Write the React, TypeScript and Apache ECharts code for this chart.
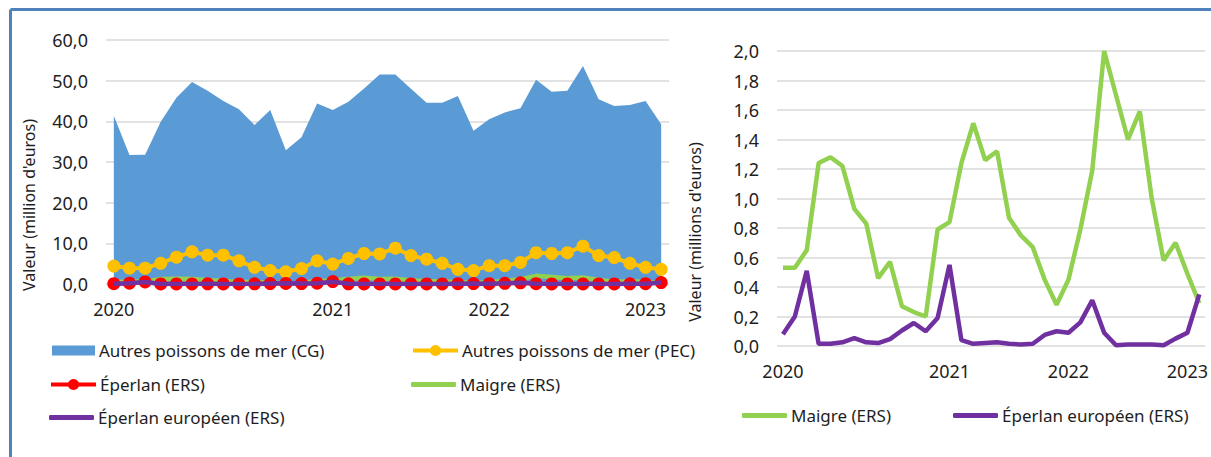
import React, { useEffect, useRef } from "react";
import * as echarts from "echarts";

const categories = [
  "2020-01", "2020-02", "2020-03", "2020-04", "2020-05", "2020-06",
  "2020-07", "2020-08", "2020-09", "2020-10", "2020-11", "2020-12",
  "2021-01", "2021-02", "2021-03", "2021-04", "2021-05", "2021-06",
  "2021-07", "2021-08", "2021-09", "2021-10", "2021-11", "2021-12",
  "2022-01", "2022-02", "2022-03", "2022-04", "2022-05", "2022-06",
  "2022-07", "2022-08", "2022-09", "2022-10", "2022-11", "2022-12",
];
const yearTickIndex = [0, 14, 24, 34];
const yearTickText = ["2020", "2021", "2022", "2023"];

const autresCG = [
  41.4, 31.7, 31.8, 39.9, 45.8, 49.7, 47.5, 45.0, 43.0, 39.1,
  42.8, 32.9, 36.1, 44.4, 42.8, 44.8, 48.1, 51.5, 51.5, 48.0,
  44.6, 44.6, 46.2, 37.7, 40.5, 42.2, 43.2, 50.2, 47.3, 47.5,
  53.6, 45.4, 43.8, 44.0, 45.0, 39.3,
];
const autresPEC = [
  4.4, 3.9, 3.9, 5.1, 6.6, 7.9, 7.1, 7.1, 5.7, 4.1,
  3.3, 3.0, 3.8, 5.7, 4.9, 6.3, 7.5, 7.4, 8.8, 7.0,
  6.1, 5.1, 3.6, 3.3, 4.5, 4.5, 5.3, 7.7, 7.5, 7.7,
  9.3, 7.0, 6.5, 5.1, 4.1, 3.6,
];
const eperlan = [
  0.08, 0.2, 0.5, 0.02, 0.02, 0.03, 0.05, 0.03, 0.02, 0.05,
  0.1, 0.15, 0.1, 0.2, 0.6, 0.04, 0.02, 0.02, 0.03, 0.02,
  0.01, 0.02, 0.08, 0.1, 0.09, 0.16, 0.3, 0.09, 0.01, 0.01,
  0.01, 0.01, 0.01, 0.05, 0.09, 0.35,
];
const maigre = [
  0.53, 0.53, 0.65, 1.24, 1.28, 1.22, 0.93, 0.83, 0.46, 0.57,
  0.27, 0.23, 0.2, 0.79, 0.84, 1.24, 1.51, 1.26, 1.32, 0.87,
  0.75, 0.67, 0.45, 0.28, 0.45, 0.79, 1.19, 2.0, 1.7, 1.4,
  1.59, 1.0, 0.58, 0.7, 0.49, 0.29,
];
const eperlanEuropeen = [
  0.08, 0.2, 0.51, 0.015, 0.015, 0.025, 0.054, 0.025, 0.02, 0.047,
  0.105, 0.156, 0.1, 0.19, 0.55, 0.04, 0.015, 0.02, 0.025, 0.015,
  0.01, 0.015, 0.075, 0.1, 0.09, 0.16, 0.31, 0.09, 0.005, 0.01,
  0.01, 0.01, 0.005, 0.05, 0.09, 0.35,
];

const NAME_CG = "Autres poissons de mer (CG)";
const NAME_PEC = "Autres poissons de mer (PEC)";
const NAME_EP = "Éperlan (ERS)";
const NAME_MA = "Maigre (ERS)";
const NAME_EU = "Éperlan européen (ERS)";

export default function App() {
  const ref = useRef<HTMLDivElement>(null);
  useEffect(() => {
    const chart = echarts.init(ref.current!, undefined, { renderer: "svg" });
    const font = "'Noto Sans', sans-serif";
    const txt = "#1e1e1e";
    const fmtX = (value: string) => {
      const k = yearTickIndex.indexOf(categories.indexOf(value));
      return k >= 0 ? yearTickText[k] : "";
    };
    const xAxisBase = (gridIndex: number) => ({
      type: "category",
      gridIndex,
      data: categories,
      boundaryGap: true,
      axisLine: { show: false },
      axisTick: { show: false },
      axisLabel: {
        interval: (i: number) => yearTickIndex.includes(i),
        formatter: fmtX,
        fontFamily: font,
        fontSize: 18,
        color: txt,
        margin: 16,
      },
    });
    const yAxisBase = (gridIndex: number, max: number, interval: number) => ({
      type: "value",
      gridIndex,
      min: 0,
      max,
      interval,
      axisLine: { show: false },
      axisTick: { show: false },
      splitLine: { lineStyle: { color: "#d9d9d9", width: 1.5 } },
      axisLabel: {
        formatter: (v: number) => v.toFixed(1).replace(".", ","),
        fontFamily: font,
        fontSize: 18,
        color: txt,
        margin: 18,
      },
    });
    const legendBase = (name: string, left: number, top: number, extra: any = {}) => ({
      data: [name],
      left,
      top,
      orient: "horizontal",
      itemWidth: 45,
      itemHeight: 14,
      itemGap: 0,
      padding: 0,
      lineStyle: { width: 4 },
      textStyle: { fontFamily: font, fontSize: 17, color: txt, padding: [0, 0, 0, -1] },
      ...extra,
    });
    const barIcon = { icon: "roundRect", itemHeight: 5 };
    const option: any = {
      animation: false,
      backgroundColor: "#ffffff",
      grid: [
        { left: 106, top: 40, width: 563, height: 244 },
        { left: 777, top: 51, width: 429, height: 295 },
      ],
      xAxis: [xAxisBase(0), xAxisBase(1)],
      yAxis: [yAxisBase(0, 60, 10), yAxisBase(1, 2, 0.2)],
      legend: [
        legendBase(NAME_CG, 52, 342, { itemWidth: 43, itemHeight: 10, icon: "rect" }),
        legendBase(NAME_EP, 49, 376),
        legendBase(NAME_EU, 49, 409, barIcon),
        legendBase(NAME_PEC, 411, 342),
        legendBase(NAME_MA, 411, 376, barIcon),
        legendBase(NAME_MA, 742, 407, barIcon),
        legendBase(NAME_EU, 953, 407, barIcon),
      ],
      graphic: [
        { type: "line", shape: { x1: 10.5, y1: 9.5, x2: 1211, y2: 9.5 }, style: { stroke: "#4F81BD", lineWidth: 3 } },
        { type: "line", shape: { x1: 10.5, y1: 9.5, x2: 10.5, y2: 457 }, style: { stroke: "#4F81BD", lineWidth: 3 } },
        {
          type: "text", x: 29, y: 205, rotation: Math.PI / 2,
          style: { text: "Valeur (million d'euros)", fontFamily: font, fontSize: 16, fill: txt, align: "center", verticalAlign: "middle" },
        },
        {
          type: "text", x: 695, y: 232, rotation: Math.PI / 2,
          style: { text: "Valeur (millions d'euros)", fontFamily: font, fontSize: 16, fill: txt, align: "center", verticalAlign: "middle" },
        },
      ],
      series: [
        {
          name: NAME_CG, type: "line", xAxisIndex: 0, yAxisIndex: 0, data: autresCG,
          symbol: "none", color: "#5B9BD5", lineStyle: { width: 0 },
          areaStyle: { color: "#5B9BD5", opacity: 1 },
        },
        {
          name: NAME_PEC, type: "line", xAxisIndex: 0, yAxisIndex: 0, data: autresPEC,
          symbol: "circle", symbolSize: 13, showAllSymbol: true, color: "#FFC000",
          lineStyle: { width: 4, color: "#FFC000" }, itemStyle: { color: "#FFC000" },
        },
        {
          name: NAME_EP, type: "line", xAxisIndex: 0, yAxisIndex: 0, data: eperlan,
          symbol: "circle", symbolSize: 13, showAllSymbol: true, color: "#FF0000",
          lineStyle: { width: 4, color: "#FF0000" }, itemStyle: { color: "#FF0000" },
        },
        {
          name: NAME_MA, type: "line", xAxisIndex: 0, yAxisIndex: 0, data: maigre, z: 3,
          symbol: "none", color: "#92D050", lineStyle: { width: 4.5, color: "#92D050" },
        },
        {
          name: NAME_EU, type: "line", xAxisIndex: 0, yAxisIndex: 0, data: eperlanEuropeen, z: 4,
          symbol: "none", color: "#7030A0", lineStyle: { width: 4.5, color: "#7030A0" },
        },
        {
          name: NAME_MA, type: "line", xAxisIndex: 1, yAxisIndex: 1, data: maigre,
          symbol: "none", color: "#92D050", lineStyle: { width: 4.5, color: "#92D050" },
        },
        {
          name: NAME_EU, type: "line", xAxisIndex: 1, yAxisIndex: 1, data: eperlanEuropeen,
          symbol: "none", color: "#7030A0", lineStyle: { width: 4.5, color: "#7030A0" },
        },
      ],
    };
    chart.setOption(option);
    return () => chart.dispose();
  }, []);
  return (
    <div
      ref={ref}
      style={{ position: "absolute", left: 0, top: 0, width: 1211, height: 457 }}
    />
  );
}
